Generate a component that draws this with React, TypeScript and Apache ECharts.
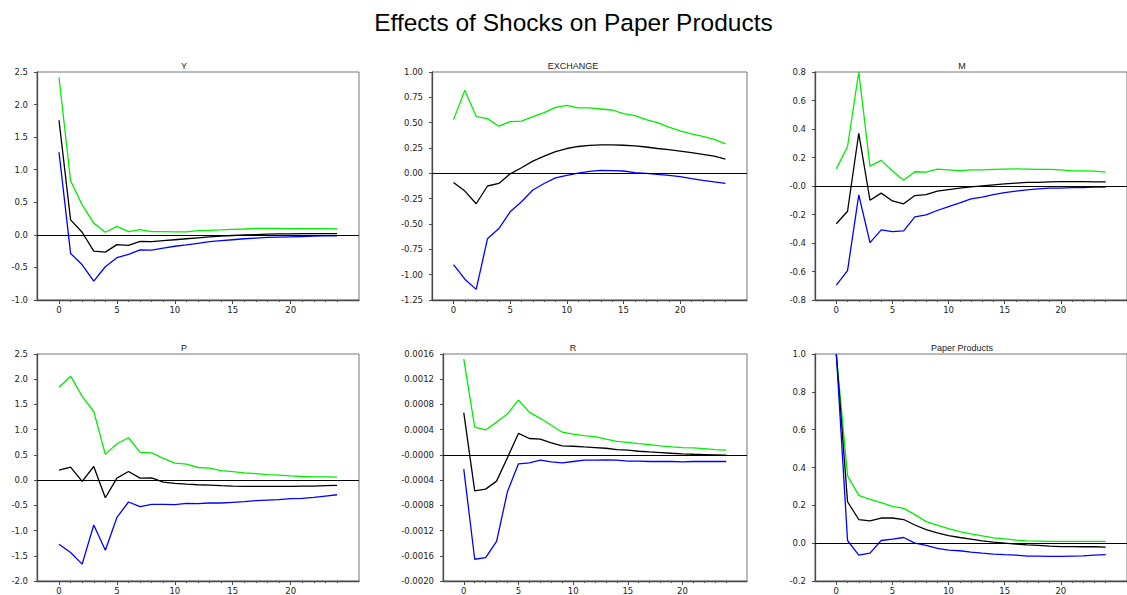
import React, { useEffect, useRef } from 'react';
import * as echarts from 'echarts';

// ---------- DATA ----------
const horizons = [0, 1, 2, 3, 4, 5, 6, 7, 8, 9, 10, 11, 12, 13, 14, 15, 16, 17, 18, 19, 20, 21, 22, 23, 24];
const xLabelValues = [0, 5, 10, 15, 20];

const mainTitle = 'Effects of Shocks on Paper Products';
const panelTitles = ['Y', 'EXCHANGE', 'M', 'P', 'R', 'Paper Products'];

// Y
const upperY = [2.42, 0.83, 0.46, 0.18, 0.04, 0.13, 0.05, 0.08, 0.05, 0.05, 0.045, 0.045, 0.065, 0.07, 0.075, 0.085, 0.09, 0.1, 0.1, 0.1, 0.095, 0.1, 0.095, 0.095, 0.09];
const respY = [1.76, 0.23, 0.04, -0.25, -0.265, -0.15, -0.16, -0.1, -0.105, -0.09, -0.075, -0.06, -0.045, -0.03, -0.02, -0.01, 0.0, 0.005, 0.01, 0.015, 0.015, 0.02, 0.02, 0.02, 0.02];
const lowerY = [1.27, -0.285, -0.46, -0.71, -0.49, -0.35, -0.3, -0.23, -0.235, -0.205, -0.175, -0.155, -0.13, -0.105, -0.09, -0.075, -0.06, -0.05, -0.04, -0.035, -0.03, -0.025, -0.02, -0.015, -0.015];
const tickLabelsY = ['-1.0', '-0.5', '0.0', '0.5', '1.0', '1.5', '2.0', '2.5'];

// EXCHANGE
const upperEx = [0.53, 0.82, 0.56, 0.54, 0.465, 0.51, 0.515, 0.56, 0.6, 0.65, 0.67, 0.645, 0.645, 0.635, 0.625, 0.59, 0.57, 0.53, 0.5, 0.455, 0.42, 0.39, 0.365, 0.335, 0.29];
const respEx = [-0.09, -0.175, -0.3, -0.125, -0.1, -0.005, 0.055, 0.12, 0.17, 0.215, 0.245, 0.265, 0.275, 0.28, 0.28, 0.277, 0.27, 0.26, 0.245, 0.233, 0.22, 0.205, 0.188, 0.17, 0.14];
const lowerEx = [-0.9, -1.045, -1.145, -0.645, -0.545, -0.38, -0.28, -0.165, -0.1, -0.045, -0.02, 0.003, 0.02, 0.03, 0.027, 0.023, 0.007, 0.0, -0.01, -0.02, -0.033, -0.052, -0.07, -0.085, -0.1];
const tickLabelsEx = ['-1.25', '-1.00', '-0.75', '-0.50', '-0.25', '0.00', '0.25', '0.50', '0.75', '1.00'];

// M
const upperM = [0.12, 0.277, 0.8, 0.14, 0.18, 0.105, 0.04, 0.1, 0.098, 0.118, 0.113, 0.108, 0.113, 0.113, 0.116, 0.118, 0.12, 0.118, 0.116, 0.116, 0.113, 0.106, 0.106, 0.104, 0.097];
const respM = [-0.265, -0.177, 0.37, -0.1, -0.05, -0.105, -0.125, -0.067, -0.06, -0.036, -0.025, -0.015, -0.006, 0.001, 0.008, 0.015, 0.02, 0.025, 0.026, 0.029, 0.031, 0.031, 0.031, 0.029, 0.029];
const lowerM = [-0.695, -0.594, -0.062, -0.397, -0.308, -0.32, -0.315, -0.217, -0.203, -0.172, -0.144, -0.118, -0.09, -0.078, -0.06, -0.046, -0.036, -0.027, -0.02, -0.015, -0.015, -0.011, -0.011, -0.008, -0.008];
const tickLabelsM = ['-0.8', '-0.6', '-0.4', '-0.2', '-0.0', '0.2', '0.4', '0.6', '0.8'];

// P
const upperP = [1.84, 2.06, 1.66, 1.36, 0.51, 0.72, 0.84, 0.55, 0.54, 0.43, 0.335, 0.315, 0.25, 0.237, 0.19, 0.17, 0.145, 0.13, 0.11, 0.1, 0.085, 0.072, 0.066, 0.066, 0.06];
const respP = [0.2, 0.256, -0.026, 0.27, -0.35, 0.04, 0.17, 0.04, 0.046, -0.04, -0.066, -0.08, -0.092, -0.1, -0.11, -0.118, -0.125, -0.125, -0.125, -0.125, -0.125, -0.118, -0.118, -0.11, -0.105];
const lowerP = [-1.27, -1.435, -1.665, -0.89, -1.39, -0.74, -0.434, -0.526, -0.48, -0.48, -0.487, -0.46, -0.467, -0.454, -0.454, -0.44, -0.428, -0.408, -0.395, -0.388, -0.368, -0.362, -0.342, -0.316, -0.29];
const tickLabelsP = ['-2.0', '-1.5', '-1.0', '-0.5', '0.0', '0.5', '1.0', '1.5', '2.0', '2.5'];

// R
const upperR = [0.00152, 0.00044, 0.000395, 0.00052, 0.00065, 0.00087, 0.000675, 0.00058, 0.00047, 0.00036, 0.00033, 0.000305, 0.00029, 0.00025, 0.000215, 0.0002, 0.00018, 0.000163, 0.000142, 0.000126, 0.000116, 0.00011, 0.0001, 0.000084, 0.000074];
const respR = [0.00067, -0.00057, -0.000543, -0.000416, -0.00004, 0.00034, 0.00026, 0.00025, 0.00019, 0.000142, 0.000137, 0.000126, 0.000116, 0.000105, 0.000084, 0.000074, 0.000058, 0.000047, 0.000037, 0.000026, 0.000016, 0.00001, 0.000005, 0.0, -0.000005];
const lowerR = [-0.000227, -0.001655, -0.00163, -0.00137, -0.00058, -0.000142, -0.000126, -0.000084, -0.00011, -0.000126, -0.000105, -0.000084, -0.000084, -0.00008, -0.000084, -0.0001, -0.0001, -0.000105, -0.000105, -0.000105, -0.00011, -0.000105, -0.000105, -0.000105, -0.000105];
const tickLabelsR = ['-0.0020', '-0.0016', '-0.0012', '-0.0008', '-0.0004', '-0.0000', '0.0004', '0.0008', '0.0012', '0.0016'];

// Paper Products
const upperPP = [1.0, 0.356, 0.253, 0.232, 0.214, 0.195, 0.184, 0.151, 0.114, 0.095, 0.077, 0.061, 0.049, 0.039, 0.028, 0.023, 0.016, 0.012, 0.011, 0.009, 0.009, 0.009, 0.009, 0.009, 0.009];
const respPP = [1.0, 0.219, 0.125, 0.118, 0.133, 0.133, 0.125, 0.096, 0.072, 0.054, 0.04, 0.03, 0.021, 0.012, 0.005, 0.0, -0.005, -0.009, -0.012, -0.016, -0.018, -0.018, -0.019, -0.019, -0.021];
const lowerPP = [1.0, 0.014, -0.063, -0.053, 0.014, 0.021, 0.03, 0.0, -0.012, -0.028, -0.037, -0.04, -0.047, -0.053, -0.058, -0.061, -0.063, -0.068, -0.068, -0.07, -0.07, -0.068, -0.067, -0.063, -0.061];
const tickLabelsPP = ['-0.2', '0.0', '0.2', '0.4', '0.6', '0.8', '1.0'];

// ---------- LAYOUT / STYLE ----------
const panels = [
  { upper: upperY, resp: respY, lower: lowerY, labels: tickLabelsY, min: -1, max: 2.5, interval: 0.5 },
  { upper: upperEx, resp: respEx, lower: lowerEx, labels: tickLabelsEx, min: -1.25, max: 1, interval: 0.25 },
  { upper: upperM, resp: respM, lower: lowerM, labels: tickLabelsM, min: -0.8, max: 0.8, interval: 0.2 },
  { upper: upperP, resp: respP, lower: lowerP, labels: tickLabelsP, min: -2, max: 2.5, interval: 0.5 },
  { upper: upperR, resp: respR, lower: lowerR, labels: tickLabelsR, min: -0.002, max: 0.0016, interval: 0.0004 },
  { upper: upperPP, resp: respPP, lower: lowerPP, labels: tickLabelsPP, min: -0.2, max: 1, interval: 0.2 },
];

const layouts = [
  { left: 37, top: 72, width: 322, height: 228, tx: 184, ty: 66 },
  { left: 432, top: 72, width: 315, height: 228, tx: 573, ty: 66 },
  { left: 815, top: 72, width: 322, height: 228, tx: 962, ty: 66 },
  { left: 37, top: 354, width: 322, height: 228, tx: 184, ty: 347.5 },
  { left: 443, top: 354, width: 304, height: 228, tx: 573, ty: 347.5 },
  { left: 815, top: 354, width: 322, height: 228, tx: 962, ty: 347.5 },
];

const FONT = '"Liberation Sans", Arial, Helvetica, sans-serif';
const LABEL_FONT = '"DejaVu Sans", "Liberation Sans", sans-serif';
const AXIS_COLOR = '#4a4a4a';
const FRAME_COLOR = '#777777';
const X_MIN = -1.9;
const X_MAX = 25.9;

function buildOption() {
  const grid: any[] = [];
  const xAxis: any[] = [];
  const yAxis: any[] = [];
  const series: any[] = [];
  const graphic: any[] = [];

  graphic.push({
    type: 'text',
    x: 573.5,
    y: 22,
    silent: true,
    style: {
      text: mainTitle,
      fill: '#000',
      font: `24.5px ${FONT}`,
      textAlign: 'center',
      textVerticalAlign: 'middle',
    },
  });

  panels.forEach((p, i) => {
    const l = layouts[i];
    grid.push({
      left: l.left,
      top: l.top,
      width: l.width,
      height: l.height,
      show: true,
      borderColor: FRAME_COLOR,
      borderWidth: 1,
      backgroundColor: 'transparent',
    });
    // main x axis with minor ticks and labels
    xAxis.push({
      type: 'value',
      gridIndex: i,
      min: X_MIN,
      max: X_MAX,
      position: 'bottom',
      splitLine: { show: false },
      axisLine: { show: true, onZero: false, lineStyle: { color: AXIS_COLOR, width: 1.3 } },
      axisTick: { show: true, inside: false, length: 2, customValues: horizons, lineStyle: { color: AXIS_COLOR, width: 1 } },
      axisLabel: {
        show: true,
        customValues: xLabelValues,
        margin: 5,
        color: '#222',
        fontSize: 8.5,
        fontFamily: LABEL_FONT,
        formatter: (v: number) => String(v),
      },
    });
    // overlay axis for the longer major ticks
    xAxis.push({
      type: 'value',
      gridIndex: i,
      min: X_MIN,
      max: X_MAX,
      position: 'bottom',
      splitLine: { show: false },
      axisLine: { show: false, onZero: false },
      axisTick: { show: true, inside: false, length: 4, customValues: xLabelValues, lineStyle: { color: AXIS_COLOR, width: 1 } },
      axisLabel: { show: false },
    });
    const labels = p.labels;
    yAxis.push({
      type: 'value',
      gridIndex: i,
      min: p.min,
      max: p.max,
      interval: p.interval,
      splitLine: { show: false },
      axisLine: { show: true, onZero: false, lineStyle: { color: AXIS_COLOR, width: 1.3 } },
      axisTick: { show: true, inside: false, length: 3, lineStyle: { color: AXIS_COLOR, width: 1 } },
      axisLabel: {
        show: true,
        margin: 9,
        color: '#222',
        fontSize: 8.5,
        fontFamily: LABEL_FONT,
        formatter: (_v: number, idx: number) => labels[idx] ?? '',
      },
    });

    const mk = (vals: number[], color: string, withZero: boolean) => {
      const s: any = {
        type: 'line',
        xAxisIndex: i * 2,
        yAxisIndex: i,
        data: horizons.map((h, k) => [h, vals[k]]),
        showSymbol: false,
        symbol: 'none',
        silent: true,
        lineStyle: { color, width: 1.3 },
        itemStyle: { color },
        z: 3,
      };
      if (withZero) {
        s.markLine = {
          silent: true,
          symbol: 'none',
          label: { show: false },
          lineStyle: { color: '#000', width: 1, type: 'solid' },
          data: [{ yAxis: 0 }],
        };
      }
      return s;
    };
    series.push(mk(p.upper, '#00ee00', true));
    series.push(mk(p.resp, '#000000', false));
    series.push(mk(p.lower, '#0000ff', false));

    graphic.push({
      type: 'text',
      x: l.tx,
      y: l.ty,
      silent: true,
      style: {
        text: panelTitles[i],
        fill: '#222',
        font: `9px ${FONT}`,
        textAlign: 'center',
        textVerticalAlign: 'middle',
      },
    });
  });

  return {
    animation: false,
    backgroundColor: '#ffffff',
    grid,
    xAxis,
    yAxis,
    series,
    graphic,
  };
}

export default function App() {
  const ref = useRef<HTMLDivElement | null>(null);
  useEffect(() => {
    if (!ref.current) return;
    const chart = echarts.init(ref.current, undefined, { renderer: 'svg' });
    chart.setOption(buildOption() as any);
    return () => {
      chart.dispose();
    };
  }, []);
  return (
    <div
      ref={ref}
      style={{ position: 'fixed', left: 0, top: 0, width: 1127, height: 595, background: '#fff' }}
    />
  );
}
